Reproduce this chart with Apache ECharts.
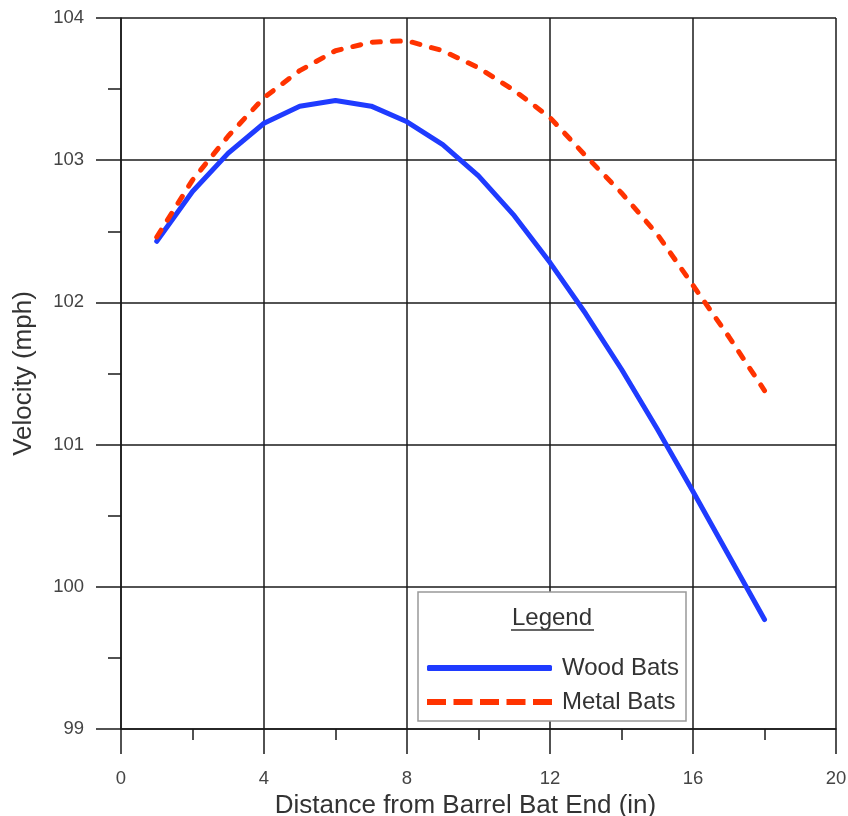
<!DOCTYPE html>
<html>
<head>
<meta charset="utf-8">
<title>Velocity vs distance</title>
<script src="https://cdn.jsdelivr.net/npm/echarts@6/dist/echarts.min.js"></script>
<style>
    html, body { margin: 0; padding: 0; background: #fff; }
    #velocity_chart { width: 848px; height: 816px; }
</style>
</head>
<body>
<div id="velocity_chart"></div>
<script>
// distance from barrel end (in)
var distance = [1, 2, 3, 4, 5, 6, 7, 8, 9, 10, 11, 12, 13, 14, 15, 16, 17, 18];
// exit velocity (mph)
var woodBats = [102.43, 102.78, 103.05, 103.26, 103.38, 103.42, 103.38, 103.27, 103.11, 102.89,
                102.61, 102.28, 101.92, 101.53, 101.11, 100.67, 100.22, 99.77];
var metalBats = [102.46, 102.86, 103.17, 103.44, 103.63, 103.77, 103.83, 103.84, 103.77, 103.65,
                 103.49, 103.30, 103.03, 102.77, 102.48, 102.12, 101.76, 101.38];
var seriesNames = ['Wood Bats', 'Metal Bats'];

var font = '"Liberation Sans", Arial, sans-serif';
var gridColor = '#1a1a1a';

// legend swatches: solid bar / five dashes
var solidIcon = 'roundRect';
var dashIcon = 'path://M0,0h19v6h-19z M26.5,0h19v6h-19z M53,0h19v6h-19z M79.5,0h19v6h-19z M106,0h19v6h-19z';

function pairs(xs, ys){
    return xs.map(function(x, i){ return [x, ys[i]]; });
}

var velocityChart = echarts.init(document.getElementById('velocity_chart'));

var option = {
    animation: false,
    grid: { left: 121, right: 12, top: 18, bottom: 87, outerBoundsMode: 'none' },
    xAxis: {
        type: 'value',
        min: 0, max: 20, interval: 4,
        name: 'Distance from Barrel Bat End (in)',
        nameLocation: 'middle',
        nameGap: 59,
        nameTextStyle: { fontFamily: font, fontSize: 26, color: '#333', padding: [0, 26, 0, 0] },
        axisLine: { onZero: false, lineStyle: { color: gridColor, width: 1.5 } },
        axisTick: { length: 25, lineStyle: { color: gridColor, width: 1.5 } },
        minorTick: { show: true, splitNumber: 2, length: 11, lineStyle: { color: gridColor, width: 1.5 } },
        axisLabel: { margin: 40, fontFamily: font, fontSize: 18.5, color: '#444' },
        splitLine: { lineStyle: { color: gridColor, width: 1.5 } }
    },
    yAxis: {
        type: 'value',
        min: 99, max: 104, interval: 1,
        name: 'Velocity (mph)',
        nameLocation: 'middle',
        nameGap: 84,
        nameTextStyle: { fontFamily: font, fontSize: 26, color: '#333' },
        axisLine: { lineStyle: { color: gridColor, width: 1.5 } },
        axisTick: { length: 25, lineStyle: { color: gridColor, width: 1.5 } },
        minorTick: { show: true, splitNumber: 2, length: 13, lineStyle: { color: gridColor, width: 1.5 } },
        axisLabel: { margin: 37, fontFamily: font, fontSize: 18.5, color: '#444' },
        splitLine: { lineStyle: { color: gridColor, width: 1.5 } }
    },
    legend: {
        data: [
            { name: seriesNames[0], icon: solidIcon },
            { name: seriesNames[1], icon: dashIcon }
        ],
        orient: 'vertical',
        left: 422,
        top: 651,
        itemWidth: 125,
        itemHeight: 6,
        itemGap: 10,
        symbolKeepAspect: false,
        z: 10,
        textStyle: { fontFamily: font, fontSize: 24, color: '#333', padding: [0, 0, 0, 5] }
    },
    graphic: [
        {
            type: 'rect', z: 5,
            shape: { x: 418, y: 592, width: 268, height: 129 },
            style: { fill: '#fff', stroke: '#999', lineWidth: 1.5 }
        },
        {
            type: 'text', z: 6,
            x: 552, y: 618,
            style: {
                text: 'Legend', fontFamily: font, fontSize: 24, fill: '#333',
                textAlign: 'center', textVerticalAlign: 'middle'
            }
        },
        {
            type: 'line', z: 6,
            shape: { x1: 511, y1: 630, x2: 594, y2: 630 },
            style: { stroke: '#333', lineWidth: 1.5 }
        }
    ],
    series: [
        {
            name: 'Wood Bats',
            type: 'line',
            symbol: 'none',
            data: pairs(distance, woodBats),
            itemStyle: { color: '#1f3bff' },
            lineStyle: { color: '#1f3bff', width: 5, cap: 'round', join: 'round' }
        },
        {
            name: 'Metal Bats',
            type: 'line',
            symbol: 'none',
            data: pairs(distance, metalBats),
            itemStyle: { color: '#ff3300' },
            lineStyle: { color: '#ff3300', width: 5, type: [8, 12], cap: 'round', join: 'round' }
        }
    ]
};

velocityChart.setOption(option);

window.addEventListener('resize', function(){
    if(velocityChart != null && velocityChart != undefined){
        velocityChart.resize();
    }
});
</script>
</body>
</html>
